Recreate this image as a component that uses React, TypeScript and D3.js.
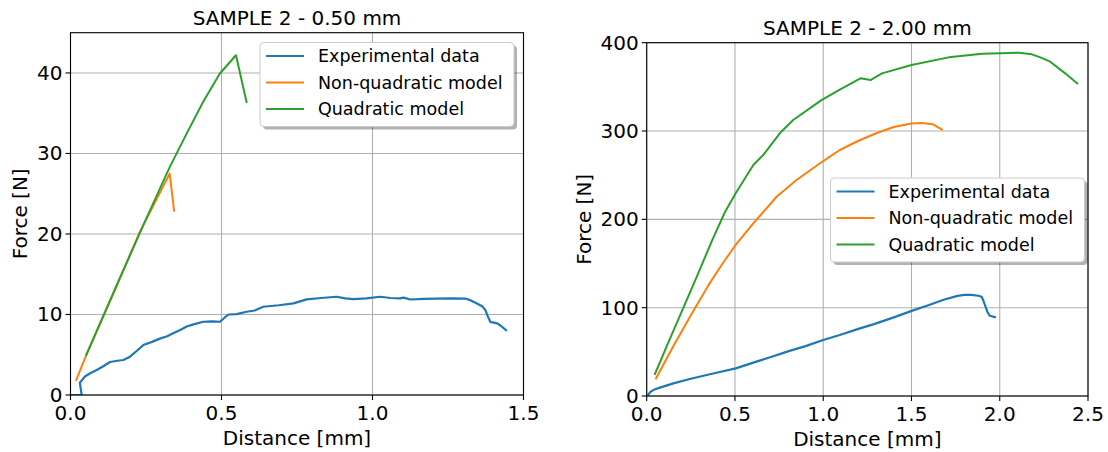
import React from 'react';
import * as d3 from 'd3';

type Pt = [number, number];

// ---------- Data ----------
const seriesNames = ['Experimental data', 'Non-quadratic model', 'Quadratic model'];
const seriesColors = ['#1f77b4', '#ff7f0e', '#2ca02c'];

const leftTitle = 'SAMPLE 2 - 0.50 mm';
const leftXTicks = [0, 0.5, 1.0, 1.5];
const leftYTicks = [0, 10, 20, 30, 40];

const leftExperimental: Pt[] = [
  [0, 0], [0.037, 0], [0.031, 1.53], [0.048, 2.3], [0.065, 2.7], [0.087, 3.1], [0.11, 3.6],
  [0.131, 4.1], [0.155, 4.25], [0.175, 4.35], [0.197, 4.76], [0.22, 5.5], [0.241, 6.2],
  [0.27, 6.6], [0.296, 7.0], [0.32, 7.3], [0.34, 7.66], [0.36, 8.0], [0.385, 8.5],
  [0.41, 8.8], [0.44, 9.1], [0.47, 9.15], [0.495, 9.1], [0.51, 9.6], [0.523, 10.0],
  [0.55, 10.05], [0.583, 10.34], [0.61, 10.5], [0.638, 10.96], [0.69, 11.15], [0.738, 11.38],
  [0.782, 11.88], [0.83, 12.05], [0.881, 12.2], [0.91, 12.0], [0.936, 11.9], [0.98, 12.0],
  [1.025, 12.2], [1.06, 12.05], [1.091, 12.0], [1.103, 12.1],
  [1.125, 11.86], [1.17, 11.95], [1.214, 11.98], [1.26, 12.0], [1.307, 11.98], [1.324, 11.78],
  [1.346, 11.36], [1.363, 11.03], [1.374, 10.54], [1.38, 9.92], [1.39, 9.09], [1.413, 8.89],
  [1.425, 8.6], [1.442, 8.06],
];
const leftNonQuadratic: Pt[] = [
  [0.019, 1.86], [0.052, 4.96], [0.14, 12.4], [0.229, 20.2], [0.3285, 27.5], [0.343, 22.9],
];
const leftQuadratic: Pt[] = [
  [0.052, 4.96], [0.15, 13.4], [0.24, 21.0], [0.3285, 28.3], [0.385, 32.5], [0.439, 36.4],
  [0.494, 39.9], [0.548, 42.2], [0.583, 36.4],
];

const rightTitle = 'SAMPLE 2 - 2.00 mm';
const rightXTicks = [0, 0.5, 1.0, 1.5, 2.0, 2.5];
const rightYTicks = [0, 100, 200, 300, 400];

const rightExperimental: Pt[] = [
  [0.009, 1.5], [0.02, 4.5], [0.04, 7], [0.075, 9.5], [0.151, 14.3], [0.25, 19.5], [0.34, 23.8],
  [0.42, 27.5], [0.504, 31.3], [0.6, 37.5], [0.717, 45], [0.8, 50.5], [0.9, 56.5], [1.0, 63.4],
  [1.094, 69], [1.208, 76.6], [1.288, 81.4], [1.4, 89], [1.501, 96.4], [1.6, 103], [1.682, 108.9],
  [1.761, 113.4], [1.8, 114.5], [1.84, 114.5], [1.88, 113.5], [1.899, 112], [1.909, 107],
  [1.929, 95.7], [1.943, 90.8], [1.972, 89.3],
];
const rightNonQuadratic: Pt[] = [
  [0.053, 20], [0.15, 56], [0.25, 91.5], [0.35, 125.5], [0.43, 150], [0.504, 171], [0.604, 195.5],
  [0.736, 225.6], [0.849, 244.5], [1.0, 266], [1.094, 278.5], [1.2, 289], [1.3, 297.5],
  [1.4, 304.5], [1.5, 308.5], [1.56, 309], [1.62, 307.7], [1.673, 301.7],
];
const rightQuadratic: Pt[] = [
  [0.047, 24.9], [0.13, 64], [0.21, 101], [0.29, 138], [0.37, 176], [0.443, 208],
  [0.504, 229.5], [0.604, 261.5], [0.66, 272.8], [0.754, 297.4], [0.83, 312.5], [0.99, 335],
  [1.094, 347], [1.211, 359.7], [1.268, 357.7], [1.333, 365.3], [1.5, 374.7],
  [1.711, 383.4], [1.9, 387.5], [2.107, 388.7], [2.182, 386.8], [2.23, 383.4], [2.286, 378.5],
  [2.371, 365.3], [2.439, 354],
];

const xLabel = 'Distance [mm]';
const yLabel = 'Force [N]';

// ---------- Layout ----------
const FONT = 'DejaVu Sans, sans-serif';

interface PanelProps {
  title: string;
  left: number; right: number; top: number; bottom: number;
  xMax: number; yMax: number;
  xTicks: number[]; yTicks: number[];
  series: Pt[][];
  legendLeft: number; legendTop: number;
  yLabelX: number;
  xFmt: (v: number) => string;
}

function Panel(p: PanelProps) {
  const x = d3.scaleLinear().domain([0, p.xMax]).range([p.left, p.right]);
  const y = d3.scaleLinear().domain([0, p.yMax]).range([p.bottom, p.top]);
  const line = d3.line<Pt>().x(d => x(d[0])).y(d => y(d[1]));
  const cx = (p.left + p.right) / 2;
  const cy = (p.top + p.bottom) / 2;
  const lw = 254, lh = 84;
  return (
    <g>
      <defs>
        <clipPath id={'clip' + Math.round(p.left)}>
          <rect x={p.left} y={p.top} width={p.right - p.left} height={p.bottom - p.top} />
        </clipPath>
      </defs>
      {p.xTicks.map(t => (
        <line key={'gx' + t} x1={x(t)} x2={x(t)} y1={p.top} y2={p.bottom} stroke="#b0b0b0" strokeWidth={1.1} />
      ))}
      {p.yTicks.map(t => (
        <line key={'gy' + t} x1={p.left} x2={p.right} y1={y(t)} y2={y(t)} stroke="#b0b0b0" strokeWidth={1.1} />
      ))}
      <g clipPath={`url(#clip${Math.round(p.left)})`}>
        {p.series.map((s, i) => (
          <path key={i} d={line(s) || ''} fill="none" stroke={seriesColors[i]} strokeWidth={i === 0 ? 2.2 : 2}
            strokeLinejoin="round" strokeLinecap="square" />
        ))}
      </g>
      <rect x={p.left} y={p.top} width={p.right - p.left} height={p.bottom - p.top} fill="none" stroke="#000" strokeWidth={1.1} />
      {p.xTicks.map(t => (
        <g key={'tx' + t}>
          <line x1={x(t)} x2={x(t)} y1={p.bottom} y2={p.bottom + 5} stroke="#000" strokeWidth={1.1} />
          <text x={x(t)} y={p.bottom + 25} textAnchor="middle" fontSize={20} fontFamily={FONT}>{p.xFmt(t)}</text>
        </g>
      ))}
      {p.yTicks.map(t => (
        <g key={'ty' + t}>
          <line x1={p.left - 5} x2={p.left} y1={y(t)} y2={y(t)} stroke="#000" strokeWidth={1.1} />
          <text x={p.left - 8} y={y(t)} textAnchor="end" dominantBaseline="central" fontSize={20} fontFamily={FONT}>{t}</text>
        </g>
      ))}
      <text x={cx} y={p.top - 8} textAnchor="middle" fontSize={20} fontFamily={FONT}>{p.title}</text>
      <text x={cx} y={p.bottom + 50} textAnchor="middle" fontSize={20} fontFamily={FONT}>{xLabel}</text>
      <text transform={`translate(${p.yLabelX},${cy}) rotate(-90)`} textAnchor="middle" dominantBaseline="central"
        fontSize={20} fontFamily={FONT}>{yLabel}</text>
      <g>
        <rect x={p.legendLeft + 3} y={p.legendTop + 3} width={lw} height={lh} rx={4} fill="#000" opacity={0.3} />
        <rect x={p.legendLeft} y={p.legendTop} width={lw} height={lh} rx={4} fill="#fff" stroke="#cccccc" strokeWidth={1} />
        {seriesNames.map((n, i) => {
          const ry = p.legendTop + 13.5 + i * 26.5;
          return (
            <g key={n}>
              <line x1={p.legendLeft + 6} x2={p.legendLeft + 44} y1={ry} y2={ry} stroke={seriesColors[i]} strokeWidth={2} />
              <text x={p.legendLeft + 58} y={ry} dominantBaseline="central" fontSize={17.5} fontFamily={FONT}>{n}</text>
            </g>
          );
        })}
      </g>
    </g>
  );
}

export default function App() {
  const fmt = d3.format('.1f');
  return (
    <svg width={1108} height={452} style={{ position: 'absolute', left: 0, top: 0, background: '#fff' }}>
      <rect width={1108} height={452} fill="#fff" />
      <Panel title={leftTitle} left={70.5} right={523.5} top={32.7} bottom={395}
        xMax={1.5} yMax={45} xTicks={leftXTicks} yTicks={leftYTicks}
        series={[leftExperimental, leftNonQuadratic, leftQuadratic]}
        legendLeft={260} legendTop={42.5} yLabelX={20} xFmt={fmt} />
      <Panel title={rightTitle} left={646.7} right={1088} top={42.7} bottom={396}
        xMax={2.5} yMax={400} xTicks={rightXTicks} yTicks={rightYTicks}
        series={[rightExperimental, rightNonQuadratic, rightQuadratic]}
        legendLeft={830.5} legendTop={178} yLabelX={584} xFmt={fmt} />
    </svg>
  );
}
